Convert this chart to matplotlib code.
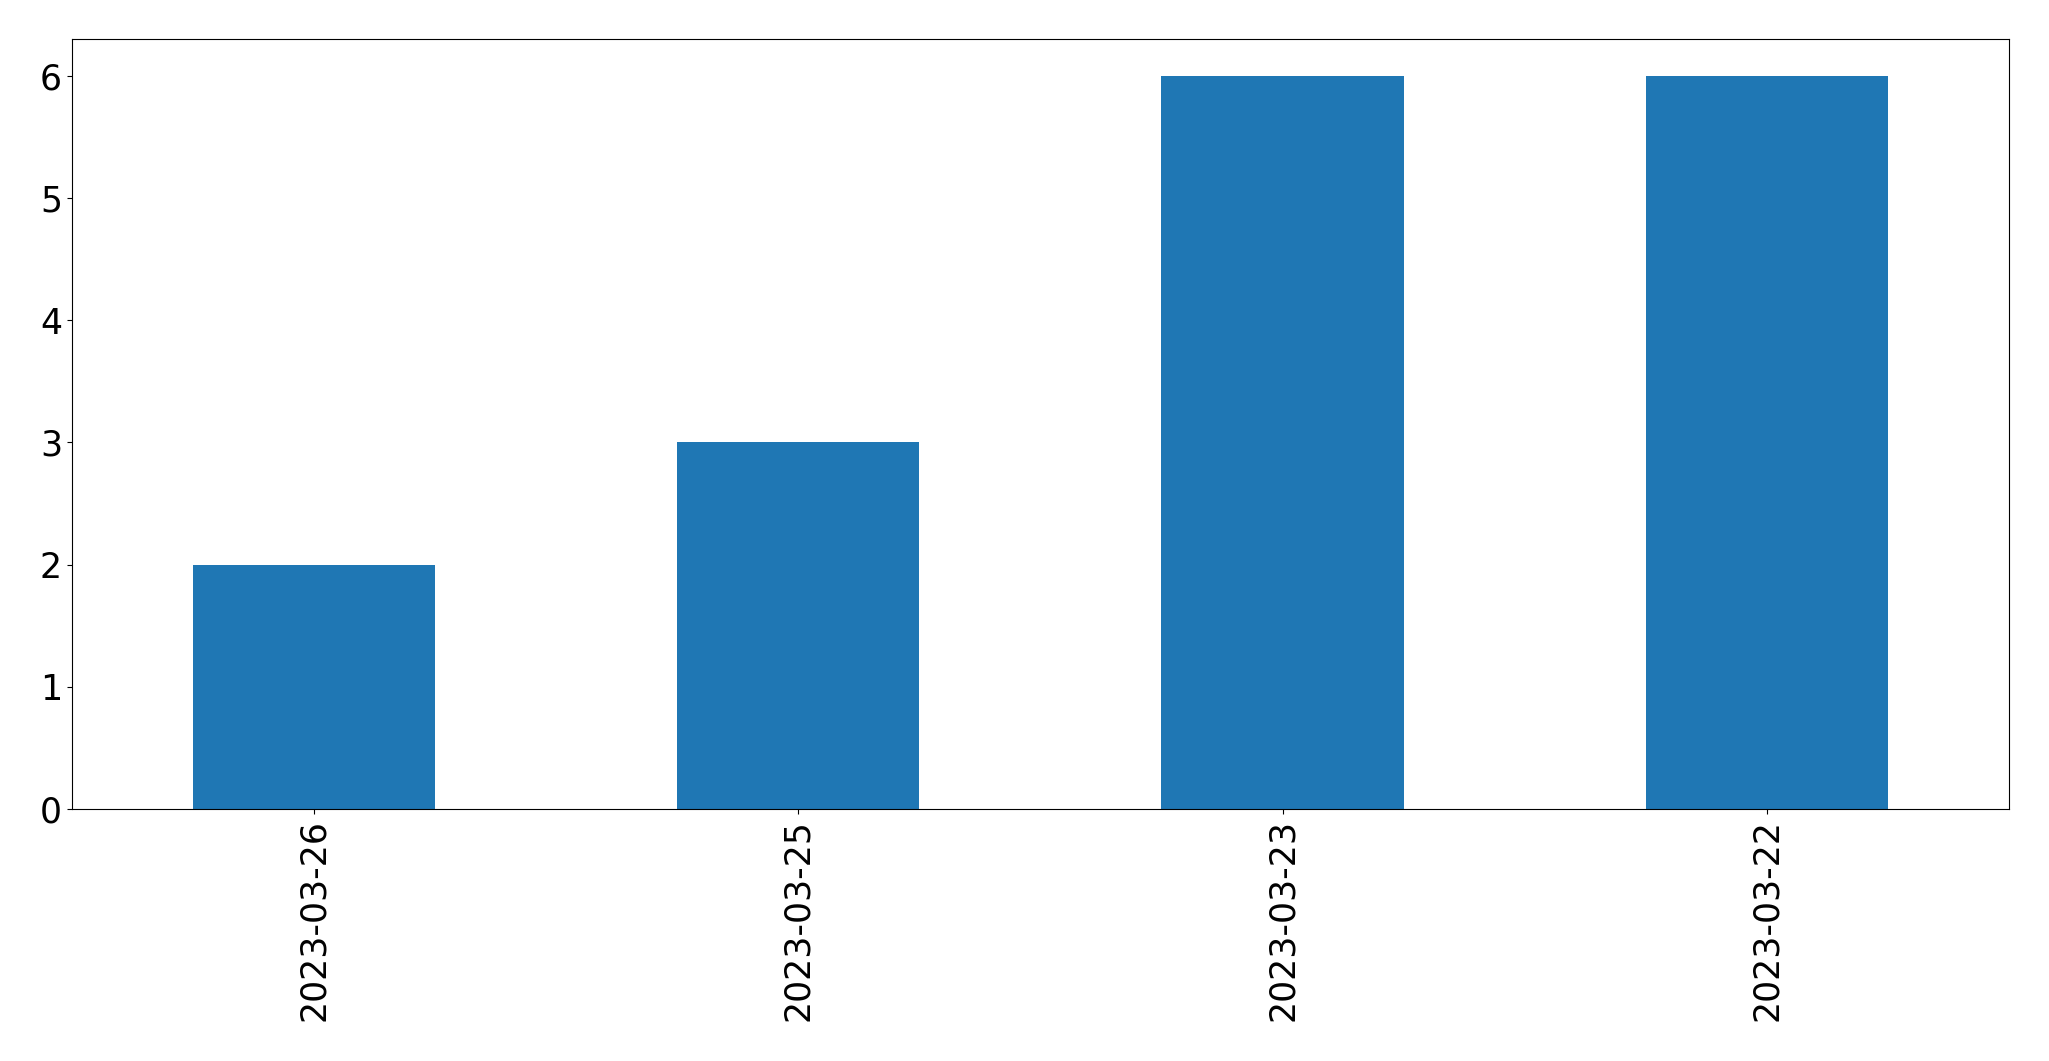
import matplotlib
matplotlib.use("Agg")
import matplotlib.pyplot as plt

dates = ["2023-03-26", "2023-03-25", "2023-03-23", "2023-03-22"]
counts = [2, 3, 6, 6]

fig = plt.figure(figsize=(20.49, 10.61), dpi=100)
ax = fig.add_axes([0.035, 0.2375, 0.9455, 0.7255])
x = range(len(dates))
ax.bar(x, counts, width=0.5, color="#1f77b4")
ax.set_xlim(-0.5, len(dates) - 0.5)
ax.set_xticks(list(x))
ax.set_xticklabels(dates, rotation=90, fontsize=25)
ax.set_yticks(range(0, 7))
ax.tick_params(axis="y", labelsize=25)
fig.savefig("out.png", dpi=100)
